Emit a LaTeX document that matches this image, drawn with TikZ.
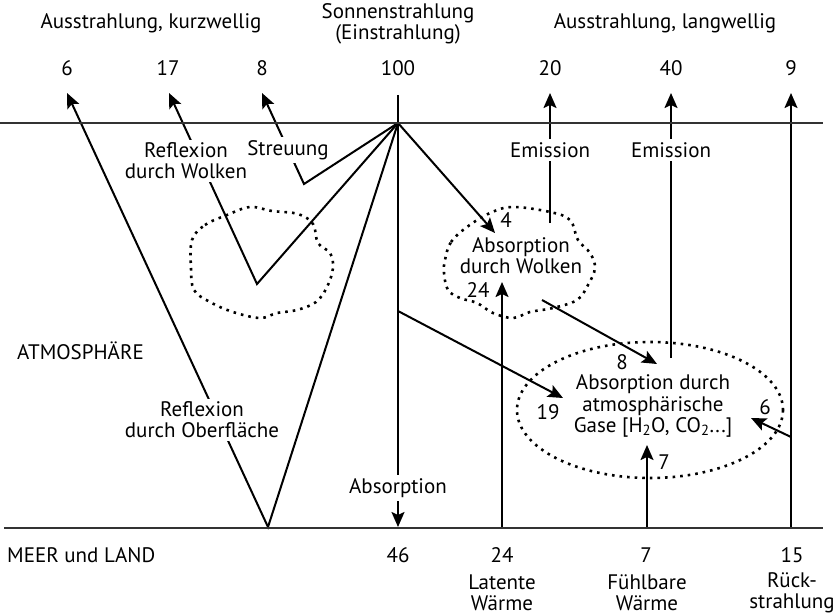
\documentclass[tikz,border=0pt]{standalone}
\usepackage{fontspec}
\setmainfont{PT Sans}
\usepackage{tikz}
\usetikzlibrary{arrows.meta, shapes.geometric}

\begin{document}
\begin{tikzpicture}[
    x=1pt, y=-1pt,
    ray/.style={line width=2pt},
    arrow/.style={ray, -{Stealth[length=15pt, width=13pt, inset=3pt]}},
    cloudline/.style={
        line width=2.6pt,
        dash pattern=on 2.6pt off 5pt
    },
    txt/.style={font=\fontsize{21}{21}\selectfont, inner sep=1pt, align=center},
    mask/.style={txt, fill=white, inner sep=3pt},
    boundary/.style={line width=1.2pt, draw=black!80}
]
\useasboundingbox (0,0) rectangle (840,615);

% points where the rays start, bend and end
\coordinate (sun) at (398,123);
\coordinate (s0) at (398,95);
\coordinate (vsurf) at (268,527);
\coordinate (vcloud) at (257,284);
\coordinate (vscat) at (304,184);
\coordinate (c19) at (398,311);
\coordinate (e20) at (550,223);
\coordinate (e40) at (671,358);
\coordinate (w8) at (542,300);
\coordinate (g24) at (502,528);
\coordinate (g7) at (647,528);
\coordinate (g15) at (791,528);
\coordinate (b6) at (791,437);
\coordinate (t6) at (67,93);
\coordinate (t17) at (169,93);
\coordinate (t8) at (262,93);
\coordinate (t20) at (550,93);
\coordinate (t40) at (671,93);
\coordinate (t9) at (791,93);
\coordinate (t46) at (398,527);
\coordinate (t4) at (495,233);
\coordinate (t24) at (502,282);
\coordinate (t8b) at (657,364);
\coordinate (t19) at (563,398);
\coordinate (t6b) at (751,418);
\coordinate (t7) at (647,445);

% short wave rays
\draw[arrow] (s0) -- (t46);
\draw[arrow] (sun) -- (vsurf) -- (t6);
\draw[arrow] (sun) -- (vcloud) -- (t17);
\draw[arrow] (sun) -- (vscat) -- (t8);
\draw[arrow] (sun) -- (t4);
\draw[arrow] (c19) -- (t19);
\draw[arrow] (w8) -- (t8b);

% long wave rays
\draw[arrow] (e20) -- (t20);
\draw[arrow] (e40) -- (t40);
\draw[arrow] (g24) -- (t24);
\draw[arrow] (g7) -- (t7);
\draw[arrow] (g15) -- (t9);
\draw[arrow] (b6) -- (t6b);

% clouds
\draw[cloudline] plot[smooth cycle, tension=0.6] coordinates {
    (192,240) (205,225) (227,215) (250,207) (272,211) (298,214) (313,224)
    (318,243) (330,253) (333,268) (327,287) (316,302) (297,310) (277,313)
    (260,318) (233,312) (210,302) (194,290) (191,268)};
\draw[cloudline] plot[smooth cycle, tension=0.6] coordinates {
    (445,260) (451,242) (467,227) (490,213) (513,207) (550,212) (570,220)
    (578,240) (590,253) (595,268) (588,285) (577,300) (553,308) (530,312)
    (513,318) (493,313) (477,303) (460,298) (448,290) (444,273)};
\draw[cloudline] (650,410) ellipse[x radius=133, y radius=68];
\node[txt, font=\fontsize{21}{21.5}\selectfont] (gas) at (653,406)
    {Absorption durch\\atmosphärische\\Gase [H\textsubscript{2}O, CO\textsubscript{2}...]};

% captions on top
\node[txt] (kurz) at (151,23) {Ausstrahlung, kurzwellig};
\node[txt] (sonne) at (398,24) {Sonnenstrahlung\\(Einstrahlung)};
\node[txt] (lang) at (665,23) {Ausstrahlung, langwellig};
\node[txt] (n6) at (67,68) {6};
\node[txt] (n17) at (168,68) {17};
\node[txt] (n8) at (262,68) {8};
\node[txt] (n100) at (398,68) {100};
\node[txt] (n20) at (550,68) {20};
\node[txt] (n40) at (671,68) {40};
\node[txt] (n9) at (791,68) {9};

% labels inside the atmosphere
\node[mask] (rwolk) at (186,161) {Reflexion\\durch Wolken};
\node[mask] (streu) at (288,150) {Streuung};
\node[mask] (em20) at (550,150) {Emission};
\node[mask] (em40) at (671,150) {Emission};
\node[mask] (roberf) at (202,420) {Reflexion\\durch Oberfläche};
\node[mask] (abs) at (398,488) {Absorption};
\node[txt] (awolk) at (521,256) {Absorption\\durch Wolken};
\node[txt] (a4) at (506,220) {4};
\node[txt] (a24) at (478,290) {24};
\node[txt] (a8) at (622,362) {8};
\node[txt] (a19) at (548,412) {19};
\node[txt] (a6) at (765,407) {6};
\node[txt] (a7) at (664,462) {7};
\node[txt, anchor=west] (atmo) at (16,351) {ATMOSPHÄRE};

% surface
\node[txt, anchor=west] (meer) at (6,555) {MEER und LAND};
\node[txt] (n46) at (398,555) {46};
\node[txt] (n24) at (502,555) {24};
\node[txt] (n7) at (646,555) {7};
\node[txt] (n15) at (792,555) {15};
\node[txt] (latent) at (502,593) {Latente\\Wärme};
\node[txt] (fuehl) at (647,593) {Fühlbare\\Wärme};
\node[txt] (rueck) at (792,593) {Rück-\\strahlung};

% top of the atmosphere and ground
\draw[boundary] (0,123) -- (823,123);
\draw[boundary] (4,528) -- (823,528);
\end{tikzpicture}
\end{document}
